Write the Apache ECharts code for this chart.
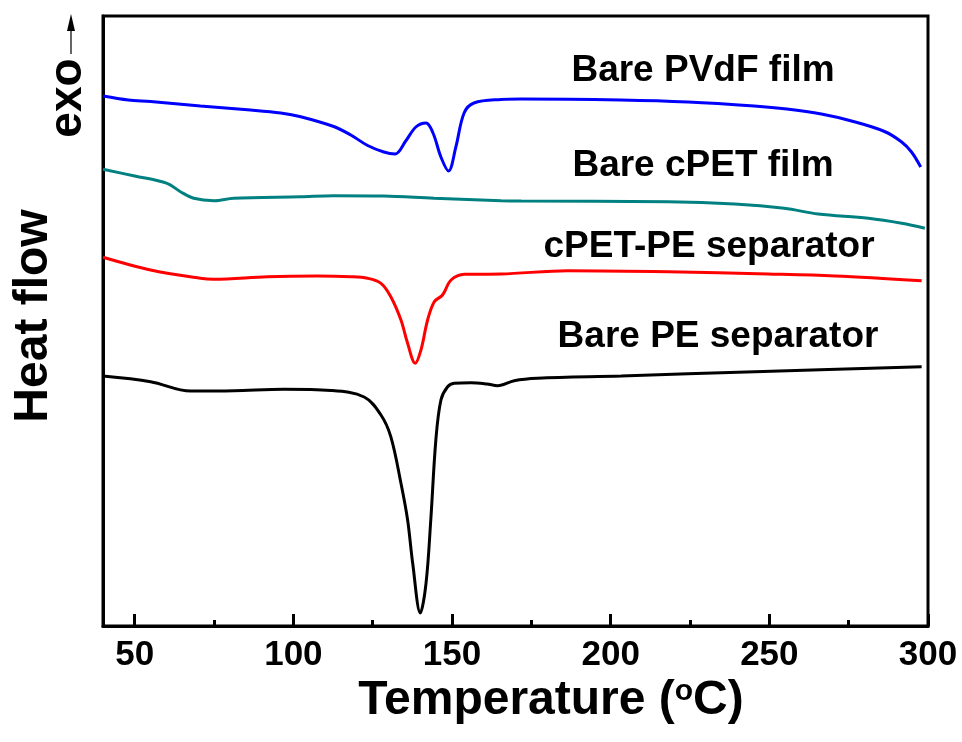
<!DOCTYPE html>
<html>
<head>
<meta charset="utf-8">
<script src="https://cdn.jsdelivr.net/npm/echarts@6/dist/echarts.min.js"></script>
<style>
  html, body { margin: 0; padding: 0; background: #fff; }
  #chart { width: 962px; height: 742px; }
</style>
</head>
<body>
<div id="chart"></div>
<script>
// DSC traces: temperature (°C) and heat flow (arbitrary units, offset per sample)
const pvdfT  = [40, 48, 55, 70.7, 86.5, 96, 102.3, 112.7, 118.1, 123.4, 128.5, 132, 135.4, 138.6, 141.8, 144, 146.5, 148.9, 151.2, 153.8, 156.9, 165.4, 171.7, 203.3, 224.4, 245.2, 255.5, 266.4, 275.9, 286.3, 291.7, 294.8, 297.7];
const pvdfHF = [530, 526, 524.5, 520, 516, 513, 509.3, 499.5, 491, 480.5, 474, 472, 485, 499, 503, 493, 469, 455, 479, 513, 523, 526.5, 527, 526, 524, 520, 517, 512, 505, 494.5, 484, 474, 459];

const cpetT  = [40, 50, 60.2, 64.4, 68.6, 75, 81.2, 102.3, 112.7, 128.5, 144.3, 165.5, 171.8, 218.1, 239, 254.7, 265.4, 281.2, 291.7, 299];
const cpetHF = [456.7, 450, 442.7, 434.3, 427.7, 425.3, 427.7, 429.3, 430.3, 430, 427.7, 425.3, 425, 424.3, 422, 417.7, 412, 407.7, 402.7, 397.7];

const cpetPeT  = [40, 55, 70.7, 74.9, 91.8, 107.6, 118.1, 123.4, 127.6, 130.7, 133.9, 136, 138.4, 140.2, 142.3, 144.4, 147, 149.7, 153.9, 165.4, 186.5, 218.1, 249.6, 270.6, 298];
const cpetPeHF = [368.7, 356, 347.7, 346.7, 349.3, 350, 349.3, 347.7, 342.7, 329.3, 306, 282.7, 262.7, 276, 306, 324.3, 331, 346, 351.7, 352, 355.3, 354.3, 352, 350, 345.3];

const peT  = [40, 55, 67.6, 81.3, 97, 111.8, 122.3, 127.6, 130.7, 133.9, 136, 137.6, 140, 141.8, 143.3, 144.9, 146.5, 148.6, 150.7, 156, 161, 164.4, 169.6, 176.9, 203.3, 245.4, 298];
const peHF = [250, 244.3, 235, 235.3, 236.7, 235.5, 229, 211, 189.3, 142.7, 106, 62.7, 13, 42.7, 106, 186, 226, 239.3, 242.7, 243.3, 242, 240.3, 245.3, 247.7, 250, 254.3, 259.3];

const seriesNames = ['Bare PVdF film', 'Bare cPET film', 'cPET-PE separator', 'Bare PE separator'];
const majorTicks = [50, 100, 150, 200, 250, 300];
const minorTicks = [75, 125, 175, 225, 275];

const zip = (xs, ys) => xs.map((x, i) => [x, ys[i]]);
const FONT = 'Arial, "Liberation Sans", sans-serif';

const chart = echarts.init(document.getElementById('chart'));

function line(name, xs, ys, color) {
  return {
    name, type: 'line', data: zip(xs, ys),
    showSymbol: false, smooth: 0.35,
    lineStyle: { color, width: 3 }, itemStyle: { color },
    xAxisIndex: 0, yAxisIndex: 0, animation: false
  };
}

function curveLabel(text, x, y) {
  return {
    type: 'text', x, y,
    style: { text, fill: '#000', font: 'bold 37px ' + FONT, align: 'center', verticalAlign: 'middle' }
  };
}

chart.setOption({
  backgroundColor: '#fff',
  animation: false,
  grid: { left: 103, right: 34, top: 16, bottom: 116, show: true, borderColor: '#000', borderWidth: 3 },
  xAxis: [{
    type: 'value', min: 40, max: 300,
    axisLine: { lineStyle: { color: '#000', width: 3 } },
    axisTick: { inside: true, length: 12, customValues: majorTicks, lineStyle: { color: '#000', width: 3 } },
    axisLabel: { customValues: majorTicks, color: '#000', fontSize: 35, fontWeight: 'bold', fontFamily: FONT, margin: 12 },
    splitLine: { show: false }
  }, {
    type: 'value', min: 40, max: 300, position: 'bottom',
    axisLine: { show: false },
    axisTick: { inside: true, length: 6, customValues: minorTicks, lineStyle: { color: '#000', width: 3 } },
    axisLabel: { show: false },
    splitLine: { show: false }
  }],
  yAxis: {
    type: 'value', min: 0, max: 610,
    axisLine: { show: true, lineStyle: { color: '#000', width: 3 } },
    axisTick: { show: false }, axisLabel: { show: false }, splitLine: { show: false }
  },
  series: [
    line(seriesNames[0], pvdfT, pvdfHF, '#0000ff'),
    line(seriesNames[1], cpetT, cpetHF, '#008080'),
    line(seriesNames[2], cpetPeT, cpetPeHF, '#ff0000'),
    line(seriesNames[3], peT, peHF, '#000000')
  ],
  graphic: [
    curveLabel(seriesNames[0], 703, 71),
    curveLabel(seriesNames[1], 703, 166),
    curveLabel(seriesNames[2], 709, 247),
    curveLabel(seriesNames[3], 718, 337),
    {
      type: 'text', x: 551, y: 701,
      style: {
        text: 'Temperature ({s|o}C)', fill: '#000', font: 'bold 48px ' + FONT,
        align: 'center', verticalAlign: 'middle',
        rich: { s: { fontSize: 30, fontWeight: 'bold', fontFamily: FONT, verticalAlign: 'top', padding: [0, 0, 16, 0] } }
      }
    },
    {
      type: 'text', x: 34, y: 316, rotation: Math.PI / 2,
      style: { text: 'Heat flow', fill: '#000', font: 'bold 48px ' + FONT, align: 'center', verticalAlign: 'middle' }
    },
    {
      type: 'text', x: 68, y: 98, rotation: Math.PI / 2,
      style: { text: 'exo', fill: '#000', font: 'bold 46px ' + FONT, align: 'center', verticalAlign: 'middle' }
    },
    { type: 'line', shape: { x1: 71, y1: 54, x2: 71, y2: 28 }, style: { stroke: '#333', lineWidth: 1.5 } },
    { type: 'polygon', shape: { points: [[71, 14], [67, 31], [75, 31]] }, style: { fill: '#000' } }
  ]
});
</script>
</body>
</html>
